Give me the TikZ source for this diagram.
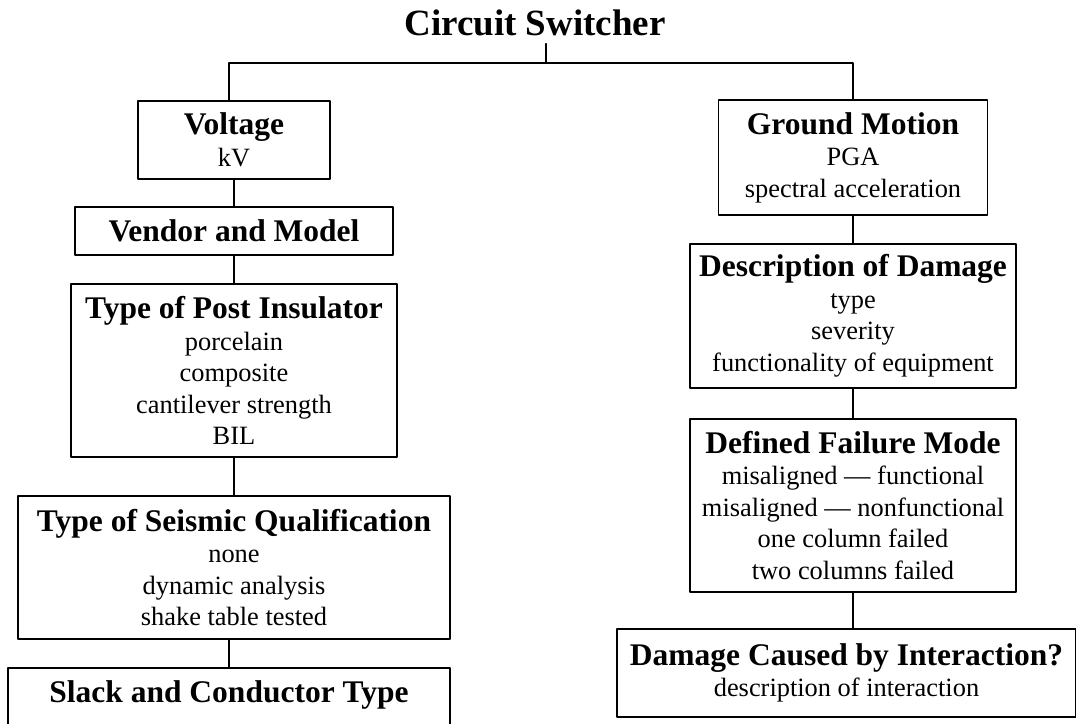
\documentclass[tikz,border=0pt]{standalone}
\usepackage{fontspec}
\setmainfont{Liberation Serif}
\usetikzlibrary{positioning}
\newcommand{\hd}[1]{{\bfseries\fontsize{31.5}{31.5}\selectfont #1}}
\tikzset{
  every picture/.style={line join=round, line cap=round},
  box/.style={draw, line width=1.4pt, align=center, inner sep=2pt,
    font=\fontsize{26.4}{31.5}\selectfont},
  link/.style={line width=1.4pt},
  ttl/.style={font=\bfseries\fontsize{37}{40}\selectfont, inner sep=8pt},
}

\begin{document}
\begin{tikzpicture}[x=1pt,y=-1pt]
\useasboundingbox (0,0) rectangle (1076,723);
\clip (0,0) rectangle (1076,723);
\node[ttl,anchor=base] (title) at (535,35) {Circuit Switcher};
\coordinate (top) at (546,63);
\coordinate (busL) at (229,63);
\coordinate (busR) at (853,63);
% left column
\node[box,minimum width=192,minimum height=78] (volt) at (234,140) {\hd{Voltage}\\kV};
\node[box,minimum width=318,minimum height=48] (vendor) at (234,231) {\hd{Vendor and Model}};
\node[box,minimum width=326,minimum height=173] (post) at (234,370.5) {\hd{Type of Post Insulator}\\porcelain\\composite\\cantilever strength\\BIL};
\node[box,minimum width=432,minimum height=143] (seis) at (234,567.5) {\hd{Type of Seismic Qualification}\\none\\dynamic analysis\\shake table tested};
\node[box,minimum width=442,minimum height=78] (slack) at (229,707) {\hd{Slack and Conductor Type}\\\mbox{}};
% right column
\node[box,minimum width=269,minimum height=115] (ground) at (853,157.5) {\hd{Ground Motion}\\PGA\\spectral acceleration};
\node[box,minimum width=326,minimum height=144] (desc) at (853,316) {\hd{Description of Damage}\\type\\severity\\functionality of equipment};
\node[box,minimum width=326,minimum height=173] (fail) at (853,505.5) {\hd{Defined Failure Mode}\\misaligned --- functional\\misaligned --- nonfunctional\\one column failed\\two columns failed};
\node[box,minimum width=459,minimum height=88] (inter) at (846.5,673) {\hd{Damage Caused by Interaction?}\\description of interaction};
% connectors
\draw[link] (top |- title.south) -- (top);
\draw[link] (busL |- volt.north) -- (busL) -- (busR) -- (busR |- ground.north);
\draw[link] (volt) -- (vendor);
\draw[link] (vendor) -- (post);
\draw[link] (post) -- (seis);
\draw[link] (slack.north) -- (slack.north |- seis.south);
\draw[link] (ground) -- (desc);
\draw[link] (desc) -- (fail);
\draw[link] (fail.south) -- (fail.south |- inter.north);
\end{tikzpicture}
\end{document}
